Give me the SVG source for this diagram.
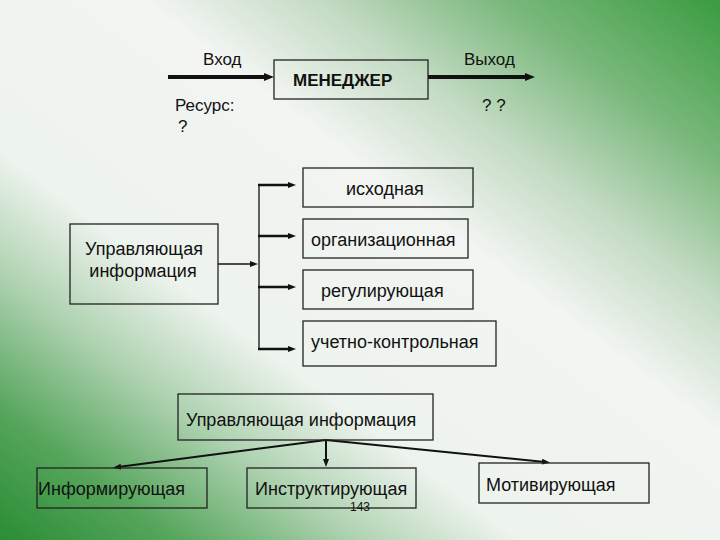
<svg xmlns="http://www.w3.org/2000/svg" width="720" height="540" viewBox="0 0 720 540">
<style>
text{font-family:"Liberation Sans",Arial,sans-serif;font-size:18px;fill:#111}
.t{font-size:17px}
.b{font-weight:bold}
.sm{font-size:12px}
.box{fill:none;stroke:#222;stroke-width:1.3}
.thick{stroke:#111;stroke-width:4;fill:none}
.med{stroke:#111;stroke-width:2.5;fill:none}
.thin{stroke:#111;stroke-width:1.3;fill:none}
.mid{stroke:#111;stroke-width:2;fill:none}
</style>
<defs>
<linearGradient id="bg" gradientUnits="userSpaceOnUse" x1="100.8" y1="615.6" x2="619.2" y2="-75.6">
<stop offset="0" stop-color="#2a8d34"/>
<stop offset="0.12" stop-color="#55a55b"/>
<stop offset="0.25" stop-color="#b0d3b2"/>
<stop offset="0.36" stop-color="#edf3ed"/>
<stop offset="0.6" stop-color="#f2f5f2"/>
<stop offset="0.72" stop-color="#c4dbc4"/>
<stop offset="0.85" stop-color="#79b87b"/>
<stop offset="1" stop-color="#3a9c40"/>
</linearGradient>
<marker id="ah" markerUnits="userSpaceOnUse" markerWidth="10" markerHeight="10" refX="3" refY="5" orient="auto" viewBox="0 0 10 10">
<path d="M0,1 L10,5 L0,9 z" fill="#111"/>
</marker>
<marker id="as" markerUnits="userSpaceOnUse" markerWidth="8" markerHeight="8" refX="3" refY="4" orient="auto" viewBox="0 0 8 8">
<path d="M0,1 L8,4 L0,7 z" fill="#111"/>
</marker>
</defs>
<rect width="720" height="540" fill="url(#bg)"/>

<g id="connectors">
<path class="thick" d="M168,77 H267" marker-end="url(#ah)"/>
<path class="thick" d="M428,77 H528" marker-end="url(#ah)"/>
<path class="thin" d="M218,264 H253" marker-end="url(#as)"/>
<path class="thin" d="M259,185 V349"/>
<path class="med" d="M258,185 H291" marker-end="url(#as)"/>
<path class="med" d="M258,236 H291" marker-end="url(#as)"/>
<path class="med" d="M258,287 H291" marker-end="url(#as)"/>
<path class="med" d="M258,349 H291" marker-end="url(#as)"/>
<path class="mid" d="M326,440 L118,467" marker-end="url(#as)"/>
<path class="mid" d="M326,440 V462" marker-end="url(#as)"/>
<path class="mid" d="M326,440 L545,462" marker-end="url(#as)"/>
</g>

<g id="labels-top">
<text class="t" x="203" y="65">Вход</text>
<text class="t" x="464" y="65">Выход</text>
<text class="t" x="175" y="111">Ресурс:</text>
<text class="t" x="178" y="132">?</text>
<text class="t" x="482" y="111">? ?</text>
</g>

<g id="manager">
<rect class="box" x="274" y="60" width="154" height="39"/>
<text class="b t" x="293" y="86">МЕНЕДЖЕР</text>
</g>

<g id="control-info">
<rect class="box" x="70" y="224" width="148" height="80"/>
<text x="144" y="255" text-anchor="middle">Управляющая</text>
<text x="143" y="277" text-anchor="middle">информация</text>
</g>

<g id="ishodnaya">
<rect class="box" x="303" y="168" width="170" height="39"/>
<text x="346" y="195">исходная</text>
</g>
<g id="organizatsionnaya">
<rect class="box" x="303" y="219" width="165" height="39"/>
<text x="311" y="246">организационная</text>
</g>
<g id="reguliruyushchaya">
<rect class="box" x="303" y="270" width="170" height="39"/>
<text x="321" y="297">регулирующая</text>
</g>
<g id="uchetno-kontrolnaya">
<rect class="box" x="303" y="321" width="193" height="45"/>
<text x="311" y="348">учетно-контрольная</text>
</g>

<g id="control-info-2">
<rect class="box" x="178" y="394" width="255" height="46"/>
<text x="186" y="426">Управляющая информация</text>
</g>
<g id="informiruyushchaya">
<rect class="box" x="37" y="468" width="170" height="40"/>
<text x="38" y="495">Информирующая</text>
</g>
<g id="instruktiruyushchaya">
<rect class="box" x="247" y="468" width="169" height="40"/>
<text x="255" y="495">Инструктирующая</text>
</g>
<g id="motiviruyushchaya">
<rect class="box" x="479" y="463" width="170" height="40"/>
<text x="486" y="491">Мотивирующая</text>
</g>
<text class="sm" x="350" y="511">143</text>
</svg>
